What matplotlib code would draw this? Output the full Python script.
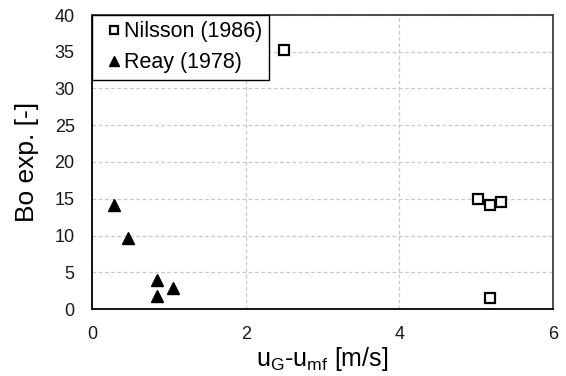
import matplotlib
matplotlib.use("Agg")
import matplotlib.pyplot as plt

plt.rcParams['font.family'] = ['Liberation Sans', 'DejaVu Sans']

# Nilsson (1986)
nilsson_u = [2.50, 5.03, 5.18, 5.32, 5.18]
nilsson_bo = [35.3, 14.9, 14.2, 14.5, 1.55]

# Reay (1978)
reay_u = [0.28, 0.47, 0.85, 0.85, 1.06]
reay_bo = [14.2, 9.7, 3.9, 1.8, 2.9]

xticks = [0, 2, 4, 6]
yticks = [0, 5, 10, 15, 20, 25, 30, 35, 40]

fig = plt.figure(figsize=(5.66, 3.76), dpi=100)
ax = fig.add_axes([92 / 566, 1 - 309 / 376, (553 - 92) / 566, (309 - 15) / 376])

ax.plot(nilsson_u, nilsson_bo, linestyle='none', marker='s', markersize=7.5,
        markerfacecolor='white', markeredgecolor='black', markeredgewidth=1.6,
        label='Nilsson (1986)', zorder=3)
ax.plot(reay_u, reay_bo, linestyle='none', marker='^', markersize=9,
        markerfacecolor='black', markeredgecolor='black',
        label='Reay (1978)', zorder=3)

ax.set_xlim(0, 6)
ax.set_ylim(0, 40)
ax.set_xticks(xticks)
ax.set_yticks(yticks)
ax.tick_params(axis='both', length=0, labelsize=13, colors='#1a1a1a')
ax.tick_params(axis='x', pad=12)
ax.tick_params(axis='y', pad=12.5)

ax.grid(True, color='#c8c8c8', linestyle=(0, (3, 2)), linewidth=0.9)
ax.set_axisbelow(True)

for side in ['left', 'bottom']:
    ax.spines[side].set_color('black')
    ax.spines[side].set_linewidth(1.3)
for side in ['top', 'right']:
    ax.spines[side].set_color('#404040')
    ax.spines[side].set_linewidth(1.3)

ax.set_xlabel('u$_\\mathregular{G}$-u$_\\mathregular{mf}$ [m/s]', fontsize=18, labelpad=2)
ax.set_ylabel('Bo exp. [-]', fontsize=19, labelpad=11)

leg = ax.legend(loc='upper left', bbox_to_anchor=(0, 1), fontsize=15.5,
                frameon=True, fancybox=False, edgecolor='black',
                borderaxespad=0, handlelength=1.4, handletextpad=-0.2,
                borderpad=0.3, labelspacing=0.45, markerscale=0.8)
leg.get_frame().set_linewidth(1.0)
leg.get_frame().set_alpha(1)

fig.savefig('out.png', dpi=100)
